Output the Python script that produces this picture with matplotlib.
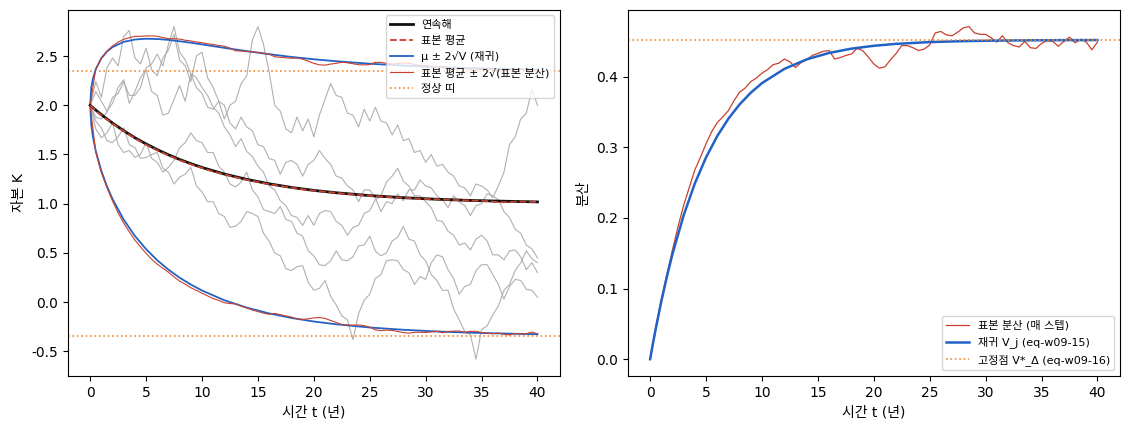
import numpy as np
import matplotlib
matplotlib.use("Agg")
import matplotlib.pyplot as plt

plt.rcParams['font.family'] = ['DejaVu Sans', 'Noto Sans CJK KR']
plt.rcParams['axes.unicode_minus'] = False

# smooth curves
t_curve = [0, 0.1, 0.25, 0.5, 1, 1.5, 2, 3, 4, 5, 6, 7, 8, 9, 10, 12, 14, 16, 18,
           20, 22, 25, 28, 31, 34, 37, 40]
k_cont = [2.000, 1.990, 1.975, 1.951, 1.905, 1.861, 1.819, 1.741, 1.670, 1.607,
          1.549, 1.497, 1.449, 1.407, 1.368, 1.301, 1.247, 1.202, 1.165, 1.135,
          1.111, 1.082, 1.061, 1.045, 1.033, 1.025, 1.018]
v_rec = [0.0, 0.00895, 0.02204, 0.04301, 0.08193, 0.11715, 0.14902, 0.20394,
         0.24890, 0.28572, 0.31586, 0.34054, 0.36074, 0.37728, 0.39083, 0.41099,
         0.42451, 0.43358, 0.43965, 0.44372, 0.44645, 0.44895, 0.45033, 0.45108,
         0.45150, 0.45172, 0.45185]

K_STAR = 1.0
V_STAR = 0.452

# sample statistics every half year
sample_mean = [
    2.000, 1.945, 1.898, 1.857, 1.815, 1.774, 1.737, 1.700, 1.665, 1.631,
    1.600, 1.570, 1.543, 1.516, 1.490, 1.466, 1.443, 1.421, 1.400, 1.381,
    1.363, 1.344, 1.327, 1.312, 1.297, 1.283, 1.268, 1.255, 1.243, 1.231,
    1.220, 1.208, 1.198, 1.189, 1.180, 1.171, 1.163, 1.154, 1.146, 1.139,
    1.133, 1.127, 1.121, 1.116, 1.110, 1.104, 1.099, 1.094, 1.090, 1.085,
    1.080, 1.077, 1.073, 1.070, 1.066, 1.063, 1.060, 1.057, 1.053, 1.050,
    1.048, 1.046, 1.044, 1.042, 1.040, 1.038, 1.036, 1.034, 1.032, 1.030,
    1.028, 1.026, 1.020, 1.016, 1.015, 1.017, 1.020, 1.022, 1.020, 1.019,
    1.018]
sample_var = [
    0.000, 0.045, 0.085, 0.120, 0.155, 0.188, 0.218, 0.243, 0.268, 0.286,
    0.305, 0.322, 0.335, 0.343, 0.352, 0.366, 0.378, 0.384, 0.393, 0.398,
    0.405, 0.410, 0.417, 0.419, 0.425, 0.421, 0.413, 0.420, 0.424, 0.430,
    0.433, 0.436, 0.437, 0.425, 0.427, 0.430, 0.432, 0.440, 0.437, 0.428,
    0.418, 0.412, 0.414, 0.424, 0.433, 0.444, 0.444, 0.441, 0.437, 0.439,
    0.445, 0.462, 0.464, 0.459, 0.458, 0.463, 0.469, 0.471, 0.462, 0.460,
    0.460, 0.455, 0.449, 0.458, 0.448, 0.444, 0.442, 0.450, 0.441, 0.440,
    0.447, 0.451, 0.450, 0.443, 0.450, 0.456, 0.448, 0.453, 0.449, 0.438,
    0.449]

# a few sample paths, every half year
path_a = [
    2.00, 2.14, 2.04, 1.94, 2.02, 2.18, 2.26, 2.02, 2.14, 2.28,
    2.36, 2.14, 2.10, 1.90, 1.92, 2.06, 2.20, 2.04, 2.32, 2.18,
    2.12, 1.98, 1.96, 2.04, 1.86, 2.00, 2.04, 2.22, 2.30, 2.66,
    2.80, 2.62, 2.34, 2.00, 1.94, 1.76, 1.72, 1.88, 1.74, 1.86,
    1.68, 1.90, 2.06, 2.22, 2.10, 2.08, 1.92, 1.90, 1.78, 1.96,
    1.84, 1.98, 1.84, 1.82, 1.70, 1.80, 1.64, 1.66, 1.52, 1.54,
    1.42, 1.50, 1.38, 1.40, 1.32, 1.28, 1.18, 1.16, 1.08, 1.20,
    1.18, 1.14, 1.06, 1.18, 1.32, 1.60, 1.68, 1.86, 1.92, 2.16,
    2.00]
path_b = [
    2.00, 2.24, 2.08, 2.38, 2.48, 2.40, 2.70, 2.76, 2.48, 2.42,
    2.58, 2.36, 2.30, 2.48, 2.56, 2.72, 2.46, 2.40, 2.24, 2.50,
    2.54, 2.28, 2.18, 2.04, 2.00, 1.82, 1.76, 1.88, 1.78, 1.74,
    1.60, 1.58, 1.46, 1.44, 1.30, 1.42, 1.44, 1.40, 1.28, 1.40,
    1.44, 1.54, 1.46, 1.40, 1.28, 1.26, 1.18, 1.14, 1.02, 1.14,
    1.14, 1.06, 0.92, 1.02, 1.00, 1.10, 1.03, 1.14, 1.14, 1.24,
    1.18, 1.16, 1.08, 1.04, 0.96, 1.08, 1.02, 0.98, 0.88, 0.98,
    1.00, 1.10, 1.08, 1.04, 0.92, 0.86, 0.74, 0.70, 0.58, 0.54,
    0.45]
path_c = [
    2.00, 1.88, 1.86, 1.93, 2.08, 2.12, 2.24, 2.10, 2.10, 2.18,
    2.38, 2.42, 2.52, 2.40, 2.62, 2.80, 2.54, 2.46, 2.32, 2.28,
    2.18, 2.10, 1.98, 1.92, 1.78, 1.70, 1.58, 1.66, 1.53, 1.48,
    1.38, 1.32, 1.18, 1.14, 1.03, 0.98, 0.88, 0.86, 0.78, 0.88,
    0.78, 0.90, 0.93, 0.92, 0.82, 0.78, 0.68, 0.76, 0.78, 0.90,
    0.93, 1.04, 1.08, 1.22, 1.28, 1.36, 1.23, 1.18, 1.08, 1.08,
    1.02, 0.96, 0.83, 0.82, 0.72, 0.68, 0.58, 0.60, 0.53, 0.64,
    0.68, 0.62, 0.48, 0.48, 0.43, 0.52, 0.53, 0.46, 0.33, 0.40,
    0.30]
path_d = [
    2.00, 1.84, 1.77, 1.64, 1.62, 1.68, 1.77, 1.60, 1.57, 1.46,
    1.47, 1.50, 1.52, 1.36, 1.32, 1.20, 1.27, 1.30, 1.37, 1.18,
    1.12, 1.02, 1.02, 0.90, 0.87, 0.76, 0.77, 0.82, 0.92, 0.90,
    0.87, 0.70, 0.62, 0.50, 0.47, 0.34, 0.32, 0.36, 0.37, 0.20,
    0.12, 0.14, 0.22, 0.06, -0.03, -0.14, -0.18, -0.38, -0.12, 0.02,
    0.08, 0.24, 0.28, 0.42, 0.43, 0.42, 0.33, 0.30, 0.18, 0.26,
    0.23, 0.40, 0.48, 0.46, 0.33, 0.24, 0.08, 0.16, 0.18, 0.32,
    0.38, 0.38, 0.28, 0.18, 0.03, 0.16, 0.23, 0.22, 0.13, 0.12,
    0.05]
path_e = [
    2.00, 1.76, 1.67, 1.72, 1.82, 1.60, 1.52, 1.54, 1.47, 1.50,
    1.62, 1.46, 1.42, 1.32, 1.37, 1.44, 1.57, 1.62, 1.72, 1.64,
    1.62, 1.52, 1.52, 1.38, 1.32, 1.20, 1.17, 1.22, 1.32, 1.14,
    1.07, 0.94, 0.92, 0.90, 0.97, 0.84, 0.82, 0.70, 0.67, 0.52,
    0.47, 0.38, 0.37, 0.42, 0.52, 0.43, 0.42, 0.46, 0.57, 0.58,
    0.67, 0.52, 0.47, 0.50, 0.62, 0.66, 0.77, 0.64, 0.62, 0.48,
    0.42, 0.28, 0.22, 0.12, 0.12, -0.07, -0.18, -0.30, -0.33, -0.58,
    -0.28, -0.24, -0.13, -0.04, 0.12, 0.18, 0.32, 0.40, 0.52, 0.44,
    0.40]
paths = [path_a, path_b, path_c, path_d, path_e]

RED = '#c8402e'
BLUE = '#2262c6'
ORANGE = '#ee8a35'
GRAY = '#a8a8a8'

t_c = np.array(t_curve)
mu = np.array(k_cont)
v = np.array(v_rec)
t_s = np.linspace(0, 40, len(sample_mean))
m_s = np.array(sample_mean)
v_s = np.array(sample_var)

fig, (ax1, ax2) = plt.subplots(1, 2, figsize=(11.3, 4.3), dpi=100)
fig.subplots_adjust(left=0.060, right=0.991, top=0.977, bottom=0.126, wspace=0.138)

for p in paths:
    ax1.plot(np.linspace(0, 40, len(p)), p, color=GRAY, lw=0.8, alpha=0.9)

ax1.plot(t_c, mu, color='#111111', lw=2, label='연속해', zorder=5)
ax1.plot(t_s, m_s, color=RED, lw=1.3, ls='--', label='표본 평균', zorder=6)
ax1.plot(t_c, mu + 2 * np.sqrt(v), color=BLUE, lw=1.3, label='μ ± 2√V (재귀)', zorder=4)
ax1.plot(t_c, mu - 2 * np.sqrt(v), color=BLUE, lw=1.3, zorder=4)
ax1.plot(t_s, m_s + 2 * np.sqrt(v_s), color=RED, lw=0.8,
         label='표본 평균 ± 2√(표본 분산)', zorder=4)
ax1.plot(t_s, m_s - 2 * np.sqrt(v_s), color=RED, lw=0.8, zorder=4)
ax1.axhline(K_STAR + 2 * np.sqrt(V_STAR), color=ORANGE, lw=1.2, ls=':', label='정상 띠')
ax1.axhline(K_STAR - 2 * np.sqrt(V_STAR), color=ORANGE, lw=1.2, ls=':')
ax1.set_xlabel('시간 t (년)')
ax1.set_ylabel('자본 K')
ax1.legend(loc='upper right', fontsize=8)

ax2.plot(t_s, v_s, color=RED, lw=0.9, label='표본 분산 (매 스텝)')
ax2.plot(t_c, v, color=BLUE, lw=1.8, label='재귀 V_j (eq-w09-15)')
ax2.axhline(V_STAR, color=ORANGE, lw=1.2, ls=':', label='고정점 V*_Δ (eq-w09-16)')
ax2.set_xlabel('시간 t (년)')
ax2.set_ylabel('분산')
ax2.legend(loc='lower right', fontsize=8)

plt.savefig('out.png', dpi=100)
